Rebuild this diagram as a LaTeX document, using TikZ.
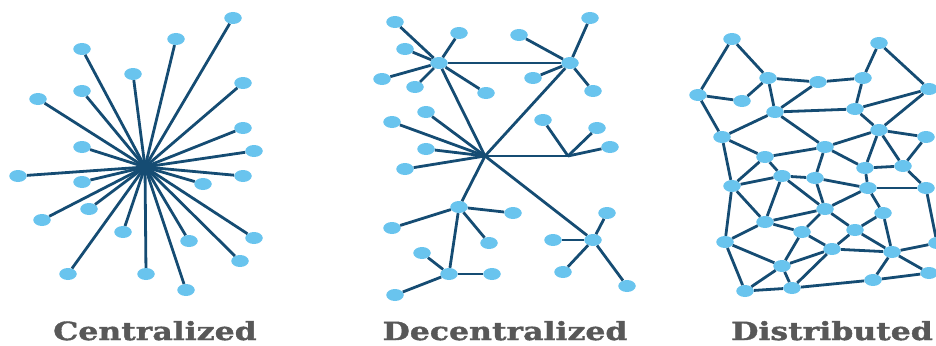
\documentclass[tikz,border=0pt]{standalone}
\usepackage{fontspec}
\usepackage{xcolor}
\usetikzlibrary{shapes.geometric}
\newfontfamily\captionfont[FakeStretch=1.26,FakeBold=1.5]{DejaVu Serif Bold}

\definecolor{linkblue}{HTML}{154C73}
\definecolor{dotblue}{HTML}{69C4EE}
\definecolor{labelgray}{HTML}{585858}

\tikzset{
  dot/.style={ellipse, fill=dotblue, inner sep=0pt, minimum width=17.5pt, minimum height=12pt},
  link/.style={draw=linkblue, line width=2.8pt},
  caption/.style={anchor=base, text=labelgray, font=\captionfont\fontsize{25}{25}\selectfont}
}

\begin{document}
\begin{tikzpicture}[x=1pt,y=-1pt]
\useasboundingbox (0,0) rectangle (936,345);
\clip (0,0) rectangle (936,345);

% centralized
\coordinate (hub) at (145,167);
\foreach \n/\x/\y in {1/233/18, 2/176/39, 3/82/49, 4/133/74, 5/243/83, 6/82/91,
  7/38/99, 8/243/128, 9/82/147, 10/254/151, 11/18/176, 12/243/176, 13/82/182,
  14/203/184, 15/89/209, 16/42/220, 17/123/232, 18/189/241, 19/254/238,
  20/68/274, 21/146/274, 22/240/261, 23/186/290}
{
  \node[dot] (c\n) at (\x,\y) {};
  \draw[link] (hub) -- (c\n);
}

% decentralized
\node[dot] (d1) at (439,63) {};
\node[dot] (d2) at (570,63) {};
\coordinate (dmid) at (485,156);
\coordinate (dfork) at (568,156);
\node[dot] (d4) at (459,207) {};
\node[dot] (d5) at (593,240) {};
\node[dot] (d6) at (449,274) {};
\draw[link] (d1) -- (d2);
\foreach \p in {d1,d2,dfork,d4,d5}
  \draw[link] (dmid) -- (\p);
\draw[link] (d4) -- (d6);
\foreach \n/\x/\y/\p in {1/395/22/d1, 2/459/33/d1, 3/405/49/d1, 4/382/79/d1,
  5/415/87/d1, 6/486/93/d1, 7/590/18/d2, 8/519/35/d2, 9/533/78/d2, 10/593/91/d2,
  11/426/112/dmid, 12/392/122/dmid, 13/426/149/dmid, 14/405/169/dmid,
  15/543/120/dfork, 16/597/128/dfork, 17/610/147/dfork,
  18/513/213/d4, 19/392/228/d4, 20/489/243/d4,
  21/422/253/d6, 22/492/274/d6, 23/395/295/d6,
  24/607/213/d5, 25/553/240/d5, 26/563/272/d5, 27/627/286/d5}
{
  \node[dot] (e\n) at (\x,\y) {};
  \draw[link] (\p) -- (e\n);
}

% distributed
\foreach \n/\x/\y in {a/732/39, b/879/43, c/768/78, d/818/82, e/863/78, f/698/95,
  g/742/101, h/929/89, i/775/112, j/855/109, k/879/130, l/722/137, m/926/137,
  n/825/147, o/765/157, p/865/168, q/903/166, r/782/176, s/815/178, t/732/186,
  u/868/188, v/926/188, w/825/209, x/883/213, y/765/222, z/802/232, A/855/230,
  B/937/243, C/725/242, D/832/249, E/892/252, F/782/266, G/929/273, H/873/280,
  I/745/291, J/792/288}
  \node[dot] (m\n) at (\x,\y) {};
\foreach \s/\t in {a/f, a/c, f/g, g/c, f/l, c/d, d/e, c/i, i/d, i/j, i/l, i/n,
  e/j, e/b, b/h, j/h, j/k, h/k, k/m, k/n, k/p, k/q, m/q, l/o, l/t, o/n, o/r,
  o/t, n/s, n/p, r/s, r/t, r/y, r/w, s/u, s/w, p/q, p/u, q/v, u/v, u/x, u/w,
  t/y, t/C, y/w, y/z, y/C, w/A, w/z, x/A, x/E, v/B, z/D, z/F, A/D, A/E, D/E,
  D/F, D/J, C/F, C/I, F/I, F/J, I/J, J/H, H/E, E/G, G/H, E/B}
  \draw[link] (m\s) -- (m\t);

\node[caption] (cap1) at (155,340) {Centralized};
\node[caption] (cap2) at (505,340) {Decentralized};
\node[caption] (cap3) at (832,340) {Distributed};
\end{tikzpicture}
\end{document}
